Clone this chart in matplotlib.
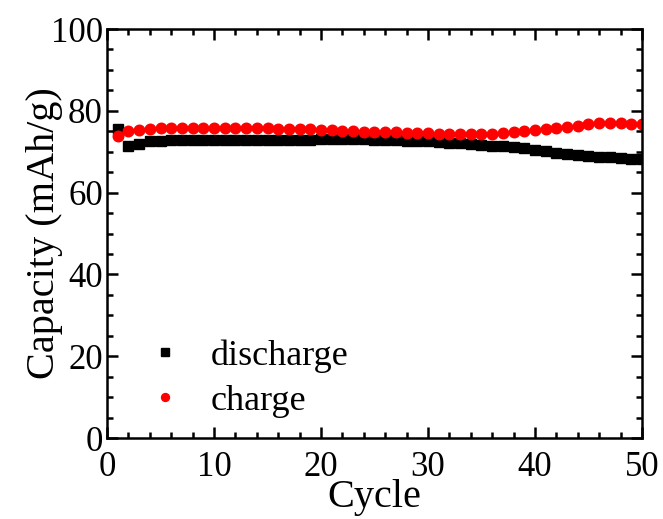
import matplotlib
matplotlib.use("Agg")
import matplotlib.pyplot as plt
import numpy as np
from matplotlib.ticker import MultipleLocator

plt.rcParams['font.family'] = ['Liberation Serif', 'DejaVu Serif']

cycle = np.arange(1, 51)
discharge = [75.5, 71.3, 72.0, 72.5, 72.7, 72.8, 72.8, 72.9, 72.9, 72.9,
             72.9, 72.9, 72.9, 72.9, 72.9, 72.9, 72.9, 72.9, 72.9, 73.2,
             73.2, 73.2, 73.1, 73.0, 72.9, 72.8, 72.8, 72.7, 72.6, 72.5,
             72.4, 72.2, 72.1, 71.9, 71.7, 71.5, 71.3, 71.1, 70.8, 70.5,
             70.1, 69.8, 69.5, 69.2, 69.0, 68.8, 68.6, 68.4, 68.2, 68.1]
charge = [73.9, 75.1, 75.4, 75.6, 75.7, 75.7, 75.7, 75.7, 75.7, 75.7,
          75.7, 75.7, 75.7, 75.7, 75.7, 75.6, 75.6, 75.6, 75.5, 75.4,
          75.2, 75.1, 75.0, 74.9, 74.8, 74.8, 74.7, 74.6, 74.5, 74.5,
          74.4, 74.3, 74.3, 74.3, 74.4, 74.4, 74.6, 74.8, 75.0, 75.3,
          75.6, 75.8, 76.1, 76.4, 76.7, 76.9, 77.0, 76.9, 76.8, 76.7]

fig = plt.figure(figsize=(6.63, 5.19), dpi=100)
ax = fig.add_axes([0.1614, 0.156, 0.8069, 0.7881])

ax.plot(cycle, discharge, 's', color='black', ms=6.8, label='discharge')
ax.plot(cycle, charge, 'o', color='red', ms=7.6, label='charge')

ax.set_xlim(0, 50)
ax.set_ylim(0, 100)
ax.xaxis.set_major_locator(MultipleLocator(10))
ax.xaxis.set_minor_locator(MultipleLocator(2))
ax.yaxis.set_major_locator(MultipleLocator(20))
ax.yaxis.set_minor_locator(MultipleLocator(5))
ax.tick_params(which='both', direction='in', top=True, right=True,
               width=1.8, labelsize=25)
ax.tick_params(axis='x', which='both', pad=9)
ax.tick_params(axis='y', which='both', pad=3)
ax.tick_params(which='major', length=8)
ax.tick_params(which='minor', length=4.5)
for s in ax.spines.values():
    s.set_linewidth(1.8)

ax.set_xlabel('Cycle', fontsize=29, labelpad=-3.5)
ax.set_ylabel('Capacity (mAh/g)', fontsize=29, labelpad=-8.5)

ax.legend(loc='lower left', frameon=False, fontsize=26, markerscale=0.75,
          handlelength=1.6, handletextpad=0.45, labelspacing=0.32,
          bbox_to_anchor=(-0.006, -0.03))

fig.savefig('out.png', dpi=100)
